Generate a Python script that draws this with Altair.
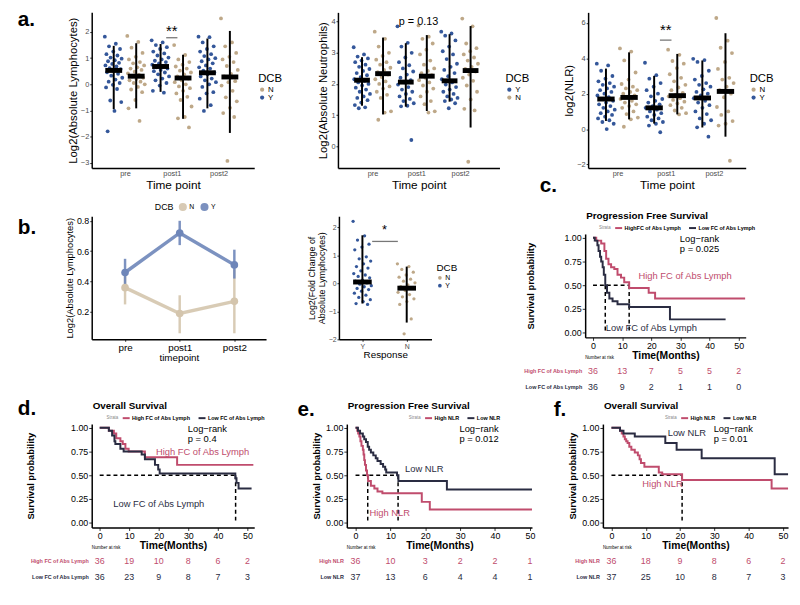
import altair as alt
import pandas as pd

FONT = "Liberation Sans"
BLUE = "#34579A"
TAN = "#BEA888"
BLUE_L = "#6E86B9"
TAN_L = "#D4C5AD"
RED = "#C04C6D"
DARK = "#2A2C42"
GREY_TXT = "#4D4D4D"

TIMEPOINTS = ["pre", "post1", "post2"]

# ---------------- a1: Log2(Absolute Lymphocytes) ----------------
lym_pre_Y = [1.82, 1.55, 1.45, 1.35, 1.25, 1.15, 1.1, 1.02, 0.98, 0.92, 0.88, 0.82, 0.78, 0.72, 0.68, 0.62,
             0.58, 0.52, 0.46, 0.4, 0.33, 0.25, 0.18, 0.1, 0.05, -0.02, -0.12, -0.18, -0.62, -0.68, -1.02, -1.8]
lym_pre_N = [1.85, 1.62, 1.4, 1.2, 1.05, 0.95, 0.85, 0.8, 0.72, 0.65, 0.6, 0.55, 0.48, 0.42, 0.36, 0.3,
             0.25, 0.2, 0.15, 0.1, 0.05, 0.0, -0.1, -0.2, -0.3, -0.6, -0.92, -1.4]
lym_post1_Y = [1.68, 1.6, 1.5, 1.42, 1.35, 1.25, 1.18, 1.1, 1.02, 0.95, 0.9, 0.85, 0.8, 0.75, 0.7, 0.65,
               0.6, 0.55, 0.5, 0.45, 0.38, 0.3, 0.22, 0.15, 0.05, -0.05, -0.25, -0.32]
lym_post1_N = [1.5, 1.12, 0.95, 0.85, 0.75, 0.68, 0.6, 0.52, 0.45, 0.38, 0.3, 0.22, 0.15, 0.08, 0.0,
               -0.08, -0.15, -0.25, -0.35, -0.48, -0.6, -0.85, -1.25, -1.3, -1.65]
lym_post2_Y = [1.82, 1.8, 1.6, 1.45, 1.35, 1.25, 1.15, 1.08, 1.0, 0.95, 0.88, 0.8, 0.72, 0.65, 0.6, 0.52,
               0.45, 0.38, 0.3, 0.22, 0.15, 0.08, 0.0, -0.1, -0.3, -0.35, -0.55, -0.8, -1.02]
lym_post2_N = [2.52, 1.6, 1.45, 1.2, 1.05, 0.95, 0.85, 0.7, 0.55, 0.4, 0.3, 0.12, 0.08, -0.05, -0.25,
               -0.5, -0.65, -0.9, -1.1, -1.25, -2.93]
lym_mean = {"Y": [0.53, 0.68, 0.44], "N": [0.31, 0.24, 0.28]}
lym_lo = {"Y": [-0.95, -0.29, -0.92], "N": [-0.92, -1.32, -1.86]}
lym_hi = {"Y": [1.47, 1.54, 1.75], "N": [1.57, 1.13, 2.04]}

# ---------------- a2: Log2(Absolute Neutrophils) ----------------
neu_pre_Y = [3.18, 2.95, 2.88, 2.82, 2.75, 2.7, 2.62, 2.55, 2.48, 2.42, 2.35, 2.28, 2.22, 2.15, 2.1, 2.05,
             2.0, 1.95, 1.88, 1.82, 1.75, 1.68, 1.6, 1.55, 1.48, 1.4, 1.32, 1.25, 1.22]
neu_pre_N = [3.68, 3.45, 3.2, 3.0, 2.9, 2.78, 2.7, 2.62, 2.52, 2.45, 2.38, 2.3, 2.22, 2.15, 2.08, 2.0,
             1.92, 1.85, 1.75, 1.65, 1.55, 1.12, 1.08, 0.85]
neu_post1_Y = [3.85, 3.32, 3.2, 3.0, 2.85, 2.7, 2.6, 2.5, 2.4, 2.3, 2.2, 2.12, 2.05, 1.98, 1.9, 1.82,
               1.75, 1.68, 1.6, 1.52, 1.45, 1.38, 1.3, 1.28, 0.2]
neu_post1_N = [3.88, 3.52, 3.45, 3.3, 3.1, 2.95, 2.75, 2.62, 2.5, 2.42, 2.35, 2.28, 2.2, 2.12, 2.05, 1.95,
               1.85, 1.75, 1.6, 1.45, 1.35, 1.12, 1.08]
neu_post2_Y = [3.68, 3.62, 3.55, 3.4, 3.2, 3.05, 2.95, 2.8, 2.65, 2.55, 2.45, 2.35, 2.25, 2.15, 2.05, 1.98,
               1.9, 1.82, 1.75, 1.68, 1.6, 1.55, 1.5, 1.45, 1.38, 1.22]
neu_post2_N = [4.1, 3.85, 3.3, 3.15, 3.05, 2.95, 2.85, 2.75, 2.65, 2.55, 2.48, 2.4, 2.3, 2.2, 2.1, 1.95,
               1.75, 1.5, 1.2, 1.15, -0.5]
neu_mean = {"Y": [2.12, 2.06, 2.1], "N": [2.33, 2.25, 2.43]}
neu_lo = {"Y": [1.3, 1.27, 1.43], "N": [1.02, 1.13, 0.6]}
neu_hi = {"Y": [2.86, 3.31, 3.6], "N": [3.49, 3.57, 3.86]}

# ---------------- a3: log2(NLR) ----------------
nlr_pre_Y = [3.7, 3.6, 3.3, 3.0, 2.85, 2.7, 2.6, 2.5, 2.4, 2.3, 2.2, 2.1, 2.0, 1.9, 1.8, 1.7, 1.6, 1.5,
             1.4, 1.3, 1.2, 1.1, 1.0, 0.9, 0.8, 0.7, 0.6, 0.5, 0.4, 0.3, 0.0]
nlr_pre_N = [4.56, 4.38, 3.88, 3.2, 2.8, 2.55, 2.4, 2.3, 2.2, 2.1, 2.0, 1.9, 1.8, 1.7, 1.6, 1.5, 1.4,
             1.3, 1.2, 1.0, 0.85, 0.65, 0.55, 0.13]
nlr_post1_Y = [3.75, 3.05, 2.85, 2.6, 2.4, 2.2, 2.0, 1.85, 1.7, 1.6, 1.5, 1.4, 1.3, 1.2, 1.1, 1.0, 0.9,
               0.8, 0.7, 0.6, 0.5, 0.4, 0.3, 0.2, -0.18]
nlr_post1_N = [4.49, 4.2, 3.85, 3.7, 3.45, 3.1, 2.9, 2.7, 2.5, 2.35, 2.2, 2.05, 1.95, 1.85, 1.75, 1.65,
               1.55, 1.45, 1.35, 1.2, 1.05, 0.9, 0.83]
nlr_post2_Y = [3.97, 3.9, 3.8, 3.3, 3.0, 2.8, 2.6, 2.5, 2.4, 2.25, 2.1, 2.0, 1.9, 1.75, 1.6, 1.5, 1.35,
               1.2, 1.0, 0.85, 0.6, 0.5, 0.3, 0.1, -0.43]
nlr_post2_N = [6.28, 5.0, 4.6, 4.3, 3.8, 3.4, 2.9, 2.8, 2.6, 2.4, 2.2, 2.0, 1.8, 1.25, 1.0, 0.8, 0.45,
               0.3, 0.2, -1.79]
nlr_mean = {"Y": [1.7, 1.2, 1.76], "N": [1.79, 1.89, 2.13]}
nlr_lo = {"Y": [0.46, 0.31, 0.09], "N": [0.55, 0.83, -0.43]}
nlr_hi = {"Y": [3.42, 3.01, 3.88], "N": [4.34, 4.25, 5.42]}

# ---------------- b1: mean lymphocytes over time ----------------
b_mean = {"N": [0.36, 0.19, 0.27], "Y": [0.46, 0.72, 0.51]}
b_lo = {"N": [0.25, 0.06, 0.06], "Y": [0.37, 0.64, 0.42]}
b_hi = {"N": [0.46, 0.31, 0.48], "Y": [0.55, 0.80, 0.61]}

# ---------------- b2: fold change by response ----------------
fc_Y = [2.22, 1.7, 1.55, 1.4, 1.3, 1.2, 0.95, 0.88, 0.8, 0.7, 0.6, 0.55, 0.45, 0.35, 0.3, 0.25, 0.2,
        0.12, 0.08, 0.02, -0.03, -0.08, -0.12, -0.18, -0.22, -0.28, -0.35, -0.42, -0.5, -0.58, -0.65,
        -0.72, -0.75]
fc_N = [0.7, 0.6, 0.5, 0.4, 0.3, 0.22, 0.15, 0.08, 0.02, -0.05, -0.12, -0.18, -0.25, -0.32, -0.4,
        -0.48, -0.55, -0.65, -0.75, -1.27, -1.8]
fc_mean = {"Y": 0.05, "N": -0.17}
fc_lo = {"Y": -0.72, "N": -1.4}
fc_hi = {"Y": 1.72, "N": 0.6}

# ---------------- Kaplan-Meier curves ----------------
FC_STRATA = ["High FC of Abs Lymph", "Low FC of Abs Lymph"]
NLR_STRATA = ["High NLR", "Low NLR"]
RISK_TIMES = [0, 10, 20, 30, 40, 50]

c_high_t = [0, 1.1, 2.8, 3.9, 4.5, 5.3, 6.2, 7.3, 8.4, 9.6, 10.7, 12.4, 19.1, 21.3, 52.2]
c_high_s = [1, 0.97, 0.94, 0.86, 0.78, 0.72, 0.69, 0.67, 0.61, 0.58, 0.53, 0.47, 0.42, 0.36, 0.36]
c_low_t = [0, 0.6, 1.5, 1.9, 2.4, 2.8, 3.3, 3.7, 4.2, 4.8, 5.6, 6.7, 8.4, 12.4, 26.4, 45.5]
c_low_s = [1, 0.97, 0.92, 0.86, 0.8, 0.75, 0.69, 0.61, 0.5, 0.42, 0.36, 0.33, 0.3, 0.27, 0.14, 0.14]
c_risk_high = [36, 13, 7, 5, 5, 2]
c_risk_low = [36, 9, 2, 1, 1, 0]
c_medians = [4.2, 12.4]

d_high_t = [0, 3.1, 4.8, 5.6, 7.0, 7.8, 8.7, 9.8, 15.3, 26.2, 52.0]
d_high_s = [1, 0.97, 0.94, 0.89, 0.86, 0.83, 0.78, 0.75, 0.69, 0.61, 0.61]
d_low_t = [0, 3.1, 4.2, 5.0, 5.3, 7.0, 8.1, 14.2, 15.3, 18.7, 19.8, 20.3, 45.9, 46.3, 47.0, 51.4]
d_low_s = [1, 0.97, 0.92, 0.86, 0.83, 0.78, 0.75, 0.72, 0.67, 0.61, 0.56, 0.52, 0.47, 0.42, 0.36, 0.36]
d_risk_high = [36, 19, 10, 8, 6, 2]
d_risk_low = [36, 23, 9, 8, 7, 3]
d_medians = [46.0]

e_high_t = [0, 0.5, 0.75, 1.1, 1.4, 1.7, 2.1, 2.3, 2.5, 2.7, 3.0, 3.3, 3.6, 4.4, 5.4, 6.3, 7.7, 19.0, 21.3, 50.6]
e_high_s = [1, 0.97, 0.94, 0.91, 0.86, 0.81, 0.77, 0.72, 0.66, 0.61, 0.55, 0.50, 0.44, 0.39, 0.36, 0.33, 0.31, 0.22, 0.14, 0.14]
e_low_t = [0, 0.7, 1.3, 2.1, 2.5, 3.0, 3.5, 3.9, 4.4, 5.1, 5.8, 6.3, 7.2, 7.9, 8.5, 8.8, 11.9, 12.3, 26.2, 50.6]
e_low_s = [1, 0.97, 0.94, 0.91, 0.88, 0.85, 0.80, 0.77, 0.74, 0.71, 0.68, 0.65, 0.62, 0.59, 0.56, 0.53, 0.50, 0.44, 0.35, 0.35]
e_risk_high = [36, 10, 3, 2, 2, 1]
e_risk_low = [37, 13, 6, 4, 4, 1]
e_medians = [3.5, 12.2]

f_high_t = [0, 2.5, 3.0, 3.5, 3.9, 4.3, 4.7, 5.2, 5.8, 6.8, 7.7, 8.2, 8.6, 9.6, 13.8, 14.8, 20.6, 46.7, 51.5]
f_high_s = [1, 0.97, 0.94, 0.91, 0.88, 0.86, 0.84, 0.80, 0.77, 0.74, 0.71, 0.67, 0.63, 0.59, 0.53, 0.51, 0.45, 0.36, 0.36]
f_low_t = [0, 2.5, 3.5, 6.8, 15.7, 19.0, 26.3, 47.6, 51.5]
f_low_s = [1, 0.97, 0.94, 0.91, 0.84, 0.77, 0.68, 0.51, 0.51]
f_risk_high = [36, 18, 9, 8, 6, 2]
f_risk_low = [37, 25, 10, 8, 7, 3]
f_medians = [20.6]


# ================= helpers =================
def points_df(series):
    recs = []
    for (t, g), vals in series.items():
        for i, v in enumerate(vals):
            recs.append({"tp": t, "DCB": g, "i": i, "value": v})
    return pd.DataFrame(recs)


def stats_df(mean, lo, hi):
    recs = []
    for g in mean:
        for t in range(3):
            recs.append({"tp": t + 1, "DCB": g, "mean": mean[g][t], "lo": lo[g][t], "hi": hi[g][t]})
    return pd.DataFrame(recs)


def panel_letter(letter, dx, dy):
    return alt.Chart(pd.DataFrame({"t": [letter]})).mark_text(
        font=FONT, fontSize=21, fontWeight="bold", align="left", baseline="middle", color="black"
    ).encode(x=alt.value(dx), y=alt.value(dy), text="t:N")


def frame(w, h, left, top, right, bottom):
    """Invisible box that fixes the layout extent of a panel around its plot area."""
    return alt.Chart(pd.DataFrame({"v": [0]})).mark_rule(opacity=0, strokeWidth=1).encode(
        x=alt.value(-left), x2=alt.value(w + right), y=alt.value(-top), y2=alt.value(h + bottom))


XPOS = "datum.tp + (datum.DCB == 'Y' ? -0.24 : 0.24)"
TP_EXPR = "datum.value == 1 ? 'pre' : datum.value == 2 ? 'post1' : 'post2'"


def dot_panel(pts, st, xdom, ydom, yticks, ytitle, order, ann_text, sig, w, h, legx, fr, extra=()):
    xscale = alt.Scale(domain=xdom, nice=False, zero=False)
    yscale = alt.Scale(domain=ydom, nice=False, zero=False)
    cmap = {"Y": BLUE, "N": TAN}
    color = alt.Color("DCB:N", scale=alt.Scale(domain=order, range=[cmap[o] for o in order]),
                      legend=alt.Legend(title="DCB", orient="none", legendX=legx, legendY=62,
                                        titleFontSize=11.5, titleFontWeight="normal", titleFont=FONT,
                                        labelFontSize=8, labelFont=FONT, symbolType="circle",
                                        symbolSize=18, padding=0, rowPadding=0, titlePadding=1,
                                        labelOffset=2))
    xaxis = alt.Axis(values=[1, 2, 3], tickCount=20, labelExpr=TP_EXPR, title="Time point", titleFontSize=12,
                     titleFontWeight="normal", titlePadding=2, labelFontSize=7.5, labelColor=GREY_TXT,
                     tickSize=0, labelPadding=2, labelOverlap=False)
    yaxis = alt.Axis(values=yticks, tickCount=20, format="d", title=ytitle, titleFontSize=11.5,
                     titleFontWeight="normal", titlePadding=2, labelFontSize=7.5, labelColor=GREY_TXT,
                     tickSize=2, labelPadding=1, labelOverlap=False)
    points = alt.Chart(pts).transform_calculate(
        xj=XPOS + " + (((datum.i * 0.618034) % 1) - 0.5) * 0.38"
    ).mark_circle(size=15, opacity=1).encode(
        x=alt.X("xj:Q", scale=xscale, axis=xaxis),
        y=alt.Y("value:Q", scale=yscale, axis=yaxis),
        color=color)
    bars = alt.Chart(st).transform_calculate(xc=XPOS).mark_rule(color="black", strokeWidth=2).encode(
        x="xc:Q", y="lo:Q", y2="hi:Q")
    means = alt.Chart(st).transform_calculate(xl=XPOS + " - 0.18", xr=XPOS + " + 0.18").mark_rule(
        color="black", strokeWidth=5, strokeCap="butt").encode(x="xl:Q", x2="xr:Q", y="mean:Q")
    layers = [points, bars, means]
    if ann_text is not None:
        layers.append(alt.Chart(pd.DataFrame([ann_text])).mark_text(
            font=FONT, fontSize=ann_text["size"], color="black", baseline="middle").encode(
            x="x:Q", y="y:Q", text="t:N"))
    if sig is not None:
        layers.append(alt.Chart(pd.DataFrame([sig])).mark_rule(color="#777777", strokeWidth=1.3).encode(
            x="x:Q", x2="x2:Q", y="y:Q"))
    layers.extend(extra)
    layers.append(frame(w, h, *fr))
    return alt.layer(*layers).properties(width=w, height=h)


def km_df(curves):
    recs = []
    for name, ts, ss in curves:
        for k, (t, s) in enumerate(zip(ts, ss)):
            recs.append({"strata": name, "t": t, "s": s, "k": k})
    return pd.DataFrame(recs)


def km_panel(strata, curves, medians, title, logrank_p, labels, xdom, w, legx, ytitle_pad,
             risk_high, risk_low, fr, letter=None, legend_alias=None, top=0):
    ph = 105
    cscale = alt.Scale(domain=strata, range=[RED, DARK])
    xscale = alt.Scale(domain=xdom, nice=False, zero=False)
    yscale = alt.Scale(domain=[-0.05, 1.04], range=[top + ph, top], nice=False, zero=False)
    leg = alt.Legend(title="Strata", orient="none", legendX=legx, legendY=top - 11, direction="horizontal",
                     titleOrient="left", titleFontSize=4.5, titleColor="#888888", titleFontWeight="normal",
                     labelFontSize=5.5, labelFontWeight="bold", labelFont=FONT, symbolType="stroke",
                     symbolStrokeWidth=2, symbolSize=50, columnPadding=3, titlePadding=2, labelOffset=1,
                     padding=0)
    if legend_alias:
        leg["labelExpr"] = legend_alias
    df = km_df(curves)
    lines = alt.Chart(df).mark_line(interpolate="step-after", strokeWidth=2).encode(
        x=alt.X("t:Q", scale=xscale,
                axis=alt.Axis(values=RISK_TIMES, tickCount=20, format="d", title="Time(Months)",
                              titleFontSize=10.5, titleFontWeight="bold", titlePadding=0, labelFontSize=9,
                              labelColor="black", tickSize=3, labelPadding=1, labelOverlap=False)),
        y=alt.Y("s:Q", scale=yscale,
                axis=alt.Axis(values=[0, 0.25, 0.5, 0.75, 1.0], tickCount=20, format=".2f",
                              title="Survival probability",
                              titleFontSize=9.5, titleFontWeight="bold", titlePadding=ytitle_pad,
                              labelFontSize=9, labelColor="black", tickSize=3, labelPadding=1,
                              labelOverlap=False)),
        color=alt.Color("strata:N", scale=cscale, legend=leg),
        order="k:Q")
    med = []
    hmax = max(medians)
    for m in medians:
        med.append({"x": m, "x2": m, "y": 0.5, "y2": 0.0})
    med.append({"x": 0, "x2": hmax, "y": 0.5, "y2": 0.5})
    medl = alt.Chart(pd.DataFrame(med)).mark_rule(color="black", strokeWidth=1.5, strokeDash=[4, 3]).encode(
        x="x:Q", x2="x2:Q", y="y:Q", y2="y2:Q")
    lab = alt.Chart(pd.DataFrame(labels)).mark_text(font=FONT, fontSize=9.5, baseline="middle").encode(
        x="x:Q", y="y:Q", text="t:N",
        color=alt.Color("strata:N", scale=cscale, legend=None))
    lr = alt.Chart(pd.DataFrame({"x": [29.8, 29.8], "y": [0.99, 0.88],
                                 "t": ["Log\u2212rank", "p = " + logrank_p]})).mark_text(
        font=FONT, fontSize=9.5, align="left", baseline="middle", color="black").encode(
        x="x:Q", y="y:Q", text="t:N")
    ttl = alt.Chart(pd.DataFrame({"t": [title]})).mark_text(
        font=FONT, fontSize=10, fontWeight="bold", align="left", baseline="middle", color="black").encode(
        x=alt.value(1), y=alt.value(top - 18), text="t:N")

    # number-at-risk table drawn under the axis, sharing the time scale
    base = top + ph
    y1, y2 = base + 34.5, base + 50
    rdf = pd.DataFrame([{"strata": strata[0], "t": t, "n": n} for t, n in zip(RISK_TIMES, risk_high)])
    rdf2 = pd.DataFrame([{"strata": strata[1], "t": t, "n": n} for t, n in zip(RISK_TIMES, risk_low)])
    nums1 = alt.Chart(rdf).mark_text(font=FONT, fontSize=9, baseline="middle").encode(
        x="t:Q", y=alt.value(y1), text="n:Q",
        color=alt.Color("strata:N", scale=cscale, legend=None))
    nums2 = alt.Chart(rdf2).mark_text(font=FONT, fontSize=9, baseline="middle").encode(
        x="t:Q", y=alt.value(y2), text="n:Q",
        color=alt.Color("strata:N", scale=cscale, legend=None))
    rl1 = alt.Chart(pd.DataFrame({"strata": [strata[0]]})).mark_text(
        font=FONT, fontSize=5.5, fontWeight="bold", align="right", baseline="middle").encode(
        x=alt.value(-3), y=alt.value(y1), text="strata:N",
        color=alt.Color("strata:N", scale=cscale, legend=None))
    rl2 = alt.Chart(pd.DataFrame({"strata": [strata[1]]})).mark_text(
        font=FONT, fontSize=5.5, fontWeight="bold", align="right", baseline="middle").encode(
        x=alt.value(-3), y=alt.value(y2), text="strata:N",
        color=alt.Color("strata:N", scale=cscale, legend=None))
    nar = alt.Chart(pd.DataFrame({"t": ["Number at risk"]})).mark_text(
        font=FONT, fontSize=4.5, align="left", baseline="middle", color="black").encode(
        x=alt.value(0), y=alt.value(base + 21), text="t:N")
    layers = [medl, lines, lab, lr, ttl, nums1, nums2, rl1, rl2, nar]
    if letter is not None:
        layers.append(letter)
    layers.append(frame(w, top + ph, *fr))
    return alt.layer(*layers).properties(width=w, height=top + ph)


# ================= Row a =================
lym_pts = points_df({(1, "Y"): lym_pre_Y, (1, "N"): lym_pre_N, (2, "Y"): lym_post1_Y,
                     (2, "N"): lym_post1_N, (3, "Y"): lym_post2_Y, (3, "N"): lym_post2_N})
neu_pts = points_df({(1, "Y"): neu_pre_Y, (1, "N"): neu_pre_N, (2, "Y"): neu_post1_Y,
                     (2, "N"): neu_post1_N, (3, "Y"): neu_post2_Y, (3, "N"): neu_post2_N})
nlr_pts = points_df({(1, "Y"): nlr_pre_Y, (1, "N"): nlr_pre_N, (2, "Y"): nlr_post1_Y,
                     (2, "N"): nlr_post1_N, (3, "Y"): nlr_post2_Y, (3, "N"): nlr_post2_N})

a1 = dot_panel(lym_pts, stats_df(lym_mean, lym_lo, lym_hi), [0.29, 3.76], [-3.2, 2.75], [-3, -2, -1, 0, 1, 2],
               "Log2(Absolute Lymphocytes)", ["N", "Y"], {"x": 2.0, "y": 2.05, "t": "**", "size": 15},
               {"x": 1.88, "x2": 2.12, "y": 1.78}, 165, 158, 169, (80, 4, 45, 34),
               extra=[panel_letter("a.", -75, 8)])
a2 = dot_panel(neu_pts, stats_df(neu_mean, neu_lo, neu_hi), [0.21, 3.9], [-0.7, 4.3], [0, 1, 2, 3, 4],
               "Log2(Absolute Neutrophils)", ["Y", "N"], {"x": 2.05, "y": 4.0, "t": "p = 0.13", "size": 11},
               None, 164, 158, 170, (40, 4, 38, 34))
a3 = dot_panel(nlr_pts, stats_df(nlr_mean, nlr_lo, nlr_hi), [0.39, 3.66], [-2.2, 6.6], [-2, 0, 2, 4, 6],
               "log2(NLR)", ["N", "Y"], {"x": 2.0, "y": 5.6, "t": "**", "size": 15},
               {"x": 1.88, "x2": 2.12, "y": 5.03}, 160, 158, 164, (52, 4, 26, 34),
               extra=[panel_letter("c.", -49, 176)])

# ================= Row b =================
bdf = stats_df(b_mean, b_lo, b_hi)
b_cscale = alt.Scale(domain=["N", "Y"], range=[TAN_L, BLUE_L])
b_x = alt.Scale(domain=[0.39, 3.58], nice=False, zero=False)
b_y = alt.Scale(domain=[0.02, 0.83], nice=False, zero=False)
b_leg = alt.Legend(title="DCB", orient="none", legendX=64, legendY=-14, direction="horizontal",
                   titleOrient="left", titleFontSize=9, titleFontWeight="normal", labelFontSize=7,
                   symbolType="circle", symbolSize=45, columnPadding=3, titlePadding=4, padding=0,
                   labelOffset=2)
b_line = alt.Chart(bdf).mark_line(strokeWidth=3.5, opacity=0.9).encode(
    x=alt.X("tp:Q", scale=b_x, axis=alt.Axis(values=[1, 2, 3], tickCount=20, labelExpr=TP_EXPR,
                                            title="timepoint",
                                            titleFontSize=10, titleFontWeight="normal", titlePadding=0,
                                            labelFontSize=10, labelColor="black", tickSize=2,
                                            labelPadding=1, labelOverlap=False)),
    y=alt.Y("mean:Q", scale=b_y, axis=alt.Axis(values=[0.2, 0.4, 0.6, 0.8], tickCount=20, format=".1f",
                                              title="Log2(Absolute Lymphocytes)",
                                              titleFontSize=9.5, titleFontWeight="normal", titlePadding=2,
                                              labelFontSize=9, labelColor="black", tickSize=2,
                                              labelPadding=1, labelOverlap=False)),
    color=alt.Color("DCB:N", scale=b_cscale, legend=b_leg))
b_err = alt.Chart(bdf).mark_rule(strokeWidth=2.5, opacity=0.9).encode(
    x="tp:Q", y="lo:Q", y2="hi:Q", color=alt.Color("DCB:N", scale=b_cscale, legend=None))
b_pt = alt.Chart(bdf).mark_circle(size=60, opacity=1).encode(
    x="tp:Q", y="mean:Q", color=alt.Color("DCB:N", scale=b_cscale, legend=None))
b1 = alt.layer(b_line, b_err, b_pt, panel_letter("b.", -75, 12),
               frame(177, 125, 80, 15, 36, 56)).properties(width=177, height=125)

fc_pts = pd.DataFrame([{"g": 1, "DCB": "Y", "i": i, "value": v} for i, v in enumerate(fc_Y)] +
                      [{"g": 2, "DCB": "N", "i": i, "value": v} for i, v in enumerate(fc_N)])
fc_st = pd.DataFrame([{"g": 1, "mean": fc_mean["Y"], "lo": fc_lo["Y"], "hi": fc_hi["Y"]},
                      {"g": 2, "mean": fc_mean["N"], "lo": fc_lo["N"], "hi": fc_hi["N"]}])
fx = alt.Scale(domain=[0.47, 2.56], nice=False, zero=False)
fy = alt.Scale(domain=[-2.0, 2.4], nice=False, zero=False)
fc_points = alt.Chart(fc_pts).transform_calculate(
    xj="datum.g + (((datum.i * 0.618034) % 1) - 0.5) * 0.42").mark_circle(size=11, opacity=1).encode(
    x=alt.X("xj:Q", scale=fx, axis=alt.Axis(values=[1, 2], tickCount=20,
                                            labelExpr="datum.value == 1 ? 'Y' : 'N'",
                                            title="Response", titleFontSize=10, titleFontWeight="normal",
                                            titlePadding=0, labelFontSize=7, labelColor=GREY_TXT,
                                            tickSize=2, labelPadding=1)),
    y=alt.Y("value:Q", scale=fy, axis=alt.Axis(values=[-2, -1, 0, 1, 2], tickCount=20, format="d",
                                              title=["Log2(Fold Change of", "Absolute Lymphocytes)"],
                                              titleFontSize=9, titleFontWeight="normal", titlePadding=2,
                                              labelFontSize=7, labelColor=GREY_TXT, tickSize=2,
                                              labelPadding=1, titleLineHeight=10, labelOverlap=False)),
    color=alt.Color("DCB:N", scale=alt.Scale(domain=["N", "Y"], range=[TAN, BLUE]),
                    legend=alt.Legend(title="DCB", orient="none", legendX=99, legendY=48, titleFontSize=10,
                                      titleFontWeight="normal", labelFontSize=7, symbolType="circle",
                                      symbolSize=14, padding=0, rowPadding=0, titlePadding=1,
                                      labelOffset=2)))
fc_bars = alt.Chart(fc_st).mark_rule(color="black", strokeWidth=2).encode(x="g:Q", y="lo:Q", y2="hi:Q")
fc_means = alt.Chart(fc_st).transform_calculate(xl="datum.g - 0.21", xr="datum.g + 0.21").mark_rule(
    color="black", strokeWidth=5, strokeCap="butt").encode(x="xl:Q", x2="xr:Q", y="mean:Q")
fc_star = alt.Chart(pd.DataFrame({"x": [1.5], "y": [1.92], "t": ["*"]})).mark_text(
    font=FONT, fontSize=13, baseline="middle").encode(x="x:Q", y="y:Q", text="t:N")
fc_sig = alt.Chart(pd.DataFrame({"x": [1.22], "x2": [1.8], "y": [1.5]})).mark_rule(
    color="#777777", strokeWidth=1.3).encode(x="x:Q", x2="x2:Q", y="y:Q")
b2 = alt.layer(fc_points, fc_bars, fc_means, fc_star, fc_sig,
               frame(94, 125, 38, 15, 86, 56)).properties(width=94, height=125)

c_panel = km_panel(FC_STRATA, [(FC_STRATA[0], c_high_t, c_high_s), (FC_STRATA[1], c_low_t, c_low_s)],
                   c_medians, "Progression Free Survival", "0.025",
                   [{"x": 31.6, "y": 0.60, "t": "High FC of Abs Lymph", "strata": FC_STRATA[0]},
                    {"x": 20.0, "y": 0.05, "t": "Low FC of Abs Lymph", "strata": FC_STRATA[1]}],
                   [-2.7, 52.4], 163, 14, 29, c_risk_high, c_risk_low, (70, 15, 25, 57),
                   legend_alias="datum.label == 'High FC of Abs Lymph' ? 'HighFC of Abs Lymph' : datum.label",
                   top=18)

# ================= Row c =================
d_panel = km_panel(FC_STRATA, [(FC_STRATA[0], d_high_t, d_high_s), (FC_STRATA[1], d_low_t, d_low_s)],
                   d_medians, "Overall Survival", "0.4",
                   [{"x": 34.8, "y": 0.74, "t": "High FC of Abs Lymph", "strata": FC_STRATA[0]},
                    {"x": 20.0, "y": 0.20, "t": "Low FC of Abs Lymph", "strata": FC_STRATA[1]}],
                   [-2.7, 52.3], 165, 15, 36, d_risk_high, d_risk_low, (80, 30, 44, 56),
                   letter=panel_letter("d.", -75, -15))
e_panel = km_panel(NLR_STRATA, [(NLR_STRATA[0], e_high_t, e_high_s), (NLR_STRATA[1], e_low_t, e_low_s)],
                   e_medians, "Progression Free Survival", "0.012",
                   [{"x": 9.8, "y": 0.10, "t": "High NLR", "strata": NLR_STRATA[0]},
                    {"x": 19.7, "y": 0.57, "t": "Low NLR", "strata": NLR_STRATA[1]}],
                   [-2.5, 50.6], 188, 63, 4, e_risk_high, e_risk_low, (45, 30, 22, 56),
                   letter=panel_letter("e.", -50, -14))
f_panel = km_panel(NLR_STRATA, [(NLR_STRATA[0], f_high_t, f_high_s), (NLR_STRATA[1], f_low_t, f_low_s)],
                   f_medians, "Overall Survival", "0.01",
                   [{"x": 14.9, "y": 0.41, "t": "High NLR", "strata": NLR_STRATA[0]},
                    {"x": 22.0, "y": 0.95, "t": "Low NLR", "strata": NLR_STRATA[1]}],
                   [-2.5, 51.5], 188, 63, 4, f_risk_high, f_risk_low, (40, 30, 2, 56),
                   letter=panel_letter("f.", -50, -14))

row_a = alt.hconcat(a1, a2, a3, spacing=0).resolve_scale(color="independent")
row_b = alt.hconcat(b1, b2, c_panel, spacing=0).resolve_scale(color="independent")
row_c = alt.hconcat(d_panel, e_panel, f_panel, spacing=0).resolve_scale(color="independent")

chart = alt.vconcat(row_a, row_b, row_c, spacing=0).resolve_scale(color="independent").configure(
    padding={"left": 5, "top": -4, "right": 0, "bottom": 0}, background="white", font=FONT
).configure_view(stroke=None).configure_axis(
    domainColor="black", domainWidth=1.5, tickColor="#333333", grid=False, labelFont=FONT, titleFont=FONT,
    titleColor="black")

chart.save("out.html", embed_options={"renderer": "svg", "actions": False})
